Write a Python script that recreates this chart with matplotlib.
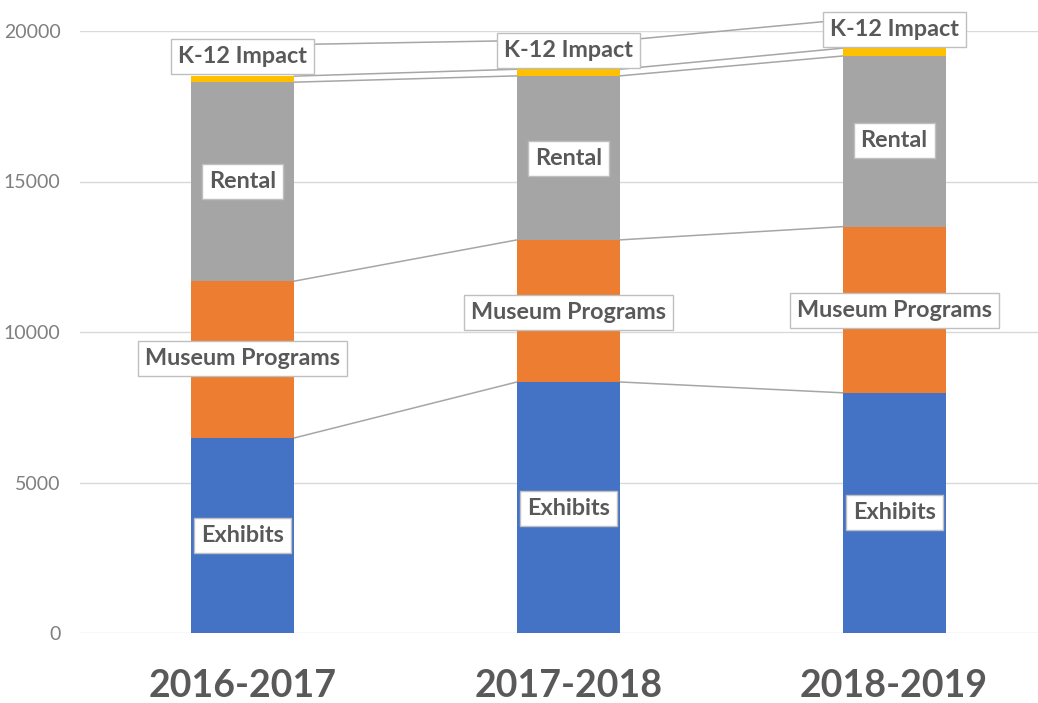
import numpy as np
import matplotlib
matplotlib.use("Agg")
import matplotlib.pyplot as plt

plt.rcParams['font.family'] = ['Lato', 'DejaVu Sans']

# Data
years = ['2016-2017', '2017-2018', '2018-2019']
series = ['Exhibits', 'Museum Programs', 'Rental', 'K-12 Impact']
exhibits = [6480, 8340, 7980]
museum = [5210, 4720, 5520]
rental = [6610, 5450, 5670]
k12 = [200, 220, 260]
# unlabelled, unfilled series on top whose series line is still visible
hidden = [1050, 950, 940]

colors = ['#4472C4', '#ED7D31', '#A5A5A5', '#FFC000']

# label placement (data y of box centres)
label_y = {
    'Exhibits': [3250, 4120, 4000],
    'Museum Programs': [9120, 10660, 10730],
    'Rental': [14990, 15780, 16360],
    'K-12 Impact': [19150, 19350, 20060],
}

fig = plt.figure(figsize=(10.38, 7.03), dpi=100)
ax = fig.add_axes([80 / 1038, 70 / 703, 958 / 1038, 602 / 703])

x = np.arange(len(years))
width = 0.316
values = [exhibits, museum, rental, k12]

bottom = np.zeros(len(years))
tops = []
for name, vals, c in zip(series, values, colors):
    ax.bar(x, vals, width, bottom=bottom, color=c, zorder=2)
    bottom = bottom + np.array(vals)
    tops.append(bottom.copy())
tops.append(bottom + np.array(hidden))

# series lines between bars
for t in tops:
    for i in range(len(years) - 1):
        ax.plot([x[i] + width / 2, x[i + 1] - width / 2], [t[i], t[i + 1]],
                color='#a6a6a6', lw=1.1, zorder=1.5, clip_on=False)

# data labels
for name in series:
    for i in range(len(years)):
        ax.text(x[i], label_y[name][i], name, ha='center', va='center',
                fontsize=16.8, fontweight='bold', color='#595959', zorder=5,
                bbox=dict(boxstyle='square,pad=0.3', fc='white',
                          ec='#bfbfbf', lw=1))

ax.set_xlim(-0.5, 2.442)
ax.set_ylim(0, 20000)
ax.set_yticks([0, 5000, 10000, 15000, 20000])
ax.yaxis.grid(True, color='#d9d9d9', lw=1, zorder=0)
ax.set_axisbelow(True)
for s in ax.spines.values():
    s.set_visible(False)
ax.tick_params(axis='y', length=0, labelsize=14, labelcolor='#7f7f7f', pad=14)
ax.tick_params(axis='x', length=0, labelsize=27, labelcolor='#595959', pad=26)
ax.set_xticks(x)
ax.set_xticklabels(years, fontweight='bold')

fig.savefig('out.png', dpi=100)
